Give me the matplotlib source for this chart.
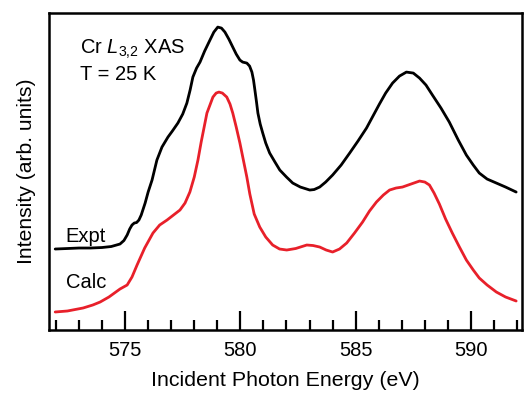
import numpy as np
import matplotlib
matplotlib.use("Agg")
import matplotlib.pyplot as plt
from matplotlib.ticker import MultipleLocator

plt.rcParams['font.family'] = ['Liberation Sans', 'DejaVu Sans']
plt.rcParams['mathtext.fontset'] = 'custom'
plt.rcParams['mathtext.rm'] = 'Liberation Sans'
plt.rcParams['mathtext.it'] = 'Liberation Sans:italic'

# Expt spectrum (energy in eV, intensity in arb. units, offset included)
expt_e = [571.97, 572.5, 573.0, 573.5, 574.0, 574.4, 574.78, 574.95, 575.09, 575.2,
          575.30, 575.40, 575.50, 575.60, 575.70, 575.87, 576.0, 576.17, 576.38, 576.60,
          576.86, 577.05, 577.29, 577.5, 577.68, 577.82, 577.94, 578.1, 578.25, 578.45,
          578.68, 578.85, 579.02, 579.18, 579.33, 579.50, 579.67, 579.82, 579.98, 580.1,
          580.28, 580.40, 580.50, 580.57, 580.63, 580.70, 580.76, 580.86, 580.97, 581.1,
          581.27, 581.5, 581.71, 582.0, 582.27, 582.6, 583.01, 583.2, 583.44, 583.7,
          584.00, 584.37, 584.74, 585.1, 585.47, 585.75, 586.03, 586.30, 586.60, 586.9,
          587.20, 587.5, 587.77, 588.05, 588.33, 588.7, 589.06, 589.45, 589.80, 590.1,
          590.36, 590.7, 591.10, 591.5, 591.96]
expt_i = [8.1, 8.15, 8.2, 8.2, 8.25, 8.35, 8.6, 8.95, 9.5, 10.1,
          10.5, 10.7, 10.75, 11.0, 11.5, 12.7, 13.8, 15.0, 17.0, 18.3,
          19.3, 19.9, 20.7, 21.6, 22.7, 24.0, 25.3, 26.2, 26.8, 27.9,
          29.0, 29.8, 30.3, 30.2, 29.8, 29.1, 28.3, 27.6, 27.0, 26.8,
          26.7, 26.4, 25.8, 25.0, 24.0, 22.8, 21.7, 20.6, 19.7, 18.7,
          17.7, 16.8, 16.0, 15.3, 14.7, 14.3, 14.0, 14.05, 14.3, 14.8,
          15.5, 16.5, 17.7, 18.9, 20.2, 21.4, 22.6, 23.7, 24.7, 25.4,
          25.8, 25.7, 25.2, 24.5, 23.5, 22.2, 20.8, 19.0, 17.5, 16.5,
          15.7, 15.1, 14.7, 14.3, 13.8]

# Calc spectrum
calc_e = [571.97, 572.5, 573.18, 573.6, 573.92, 574.3, 574.78, 575.09, 575.3, 575.52,
          575.85, 576.21, 576.5, 576.82, 577.1, 577.38, 577.6, 577.81, 578.0, 578.16,
          578.30, 578.55, 578.81, 578.95, 579.07, 579.22, 579.41, 579.55, 579.67, 579.82,
          579.98, 580.13, 580.28, 580.41, 580.6, 580.84, 581.1, 581.40, 581.7, 582.01,
          582.4, 582.88, 583.15, 583.44, 583.72, 584.00, 584.3, 584.61, 584.95, 585.30,
          585.6, 585.90, 586.2, 586.47, 586.75, 587.03, 587.4, 587.77, 588.0, 588.20,
          588.4, 588.63, 588.9, 589.19, 589.5, 589.80, 590.1, 590.36, 590.7, 591.10,
          591.5, 591.96]
calc_i = [1.8, 1.9, 2.2, 2.5, 2.8, 3.3, 4.1, 4.5, 5.3, 6.5,
          8.2, 9.7, 10.5, 11.0, 11.5, 12.0, 12.7, 13.8, 15.3, 17.0,
          18.8, 21.7, 23.3, 23.7, 23.8, 23.7, 23.3, 22.6, 21.7, 20.3,
          18.7, 17.0, 15.3, 13.6, 11.6, 10.3, 9.3, 8.5, 8.1, 8.0,
          8.15, 8.5, 8.45, 8.3, 8.0, 7.8, 8.1, 8.7, 9.7, 10.8,
          11.9, 12.8, 13.5, 14.0, 14.2, 14.3, 14.6, 14.9, 14.8, 14.5,
          13.7, 12.6, 11.1, 9.7, 8.3, 7.0, 6.0, 5.2, 4.5, 3.8,
          3.3, 2.9]

fig = plt.figure(figsize=(5.25, 3.97), dpi=100)
ax = fig.add_axes([0.0933, 0.1688, 0.9004, 0.7982])

ax.plot(expt_e, expt_i, color='black', lw=2.0, solid_joinstyle='round',
        solid_capstyle='round')
ax.plot(calc_e, calc_i, color='#e8202a', lw=2.0, solid_joinstyle='round',
        solid_capstyle='round')

ax.set_xlim(571.7, 592.2)
ax.set_ylim(0, 31.7)

ax.xaxis.set_major_locator(MultipleLocator(5))
ax.xaxis.set_minor_locator(MultipleLocator(1))
ax.tick_params(axis='x', which='major', direction='in', length=14, width=1.6,
               labelsize=14.5, pad=8)
ax.tick_params(axis='x', which='minor', direction='in', length=7, width=1.6)
ax.set_yticks([])
for s in ax.spines.values():
    s.set_linewidth(1.8)

ax.set_xlabel('Incident Photon Energy (eV)', fontsize=15.4, labelpad=8)
ax.set_ylabel('Intensity (arb. units)', fontsize=15.2, labelpad=9)

ax.text(0.065, 0.885, r'Cr $\mathit{L}_{\mathit{3{,}2}}$ XAS', transform=ax.transAxes,
        fontsize=14.5, va='center')
ax.text(0.065, 0.805, 'T = 25 K', transform=ax.transAxes, fontsize=14.5, va='center')
ax.text(0.035, 0.295, 'Expt', transform=ax.transAxes, fontsize=14.5, va='center')
ax.text(0.035, 0.15, 'Calc', transform=ax.transAxes, fontsize=14.5, va='center')

fig.savefig('out.png', dpi=100)
